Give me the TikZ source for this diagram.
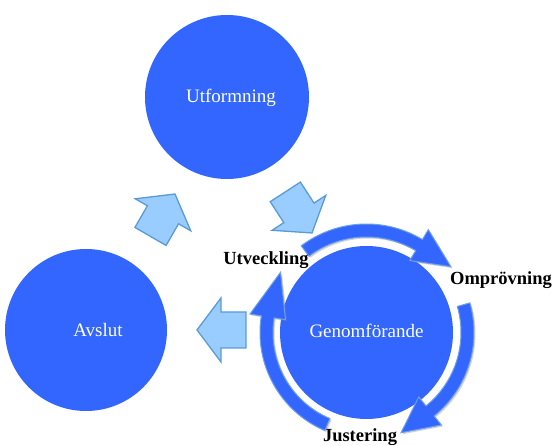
\documentclass[tikz,border=0pt]{standalone}
\usepackage{fontspec}
\setmainfont{Liberation Serif}
\usetikzlibrary{shadows}
\definecolor{discblue}{RGB}{51,102,255}
\definecolor{blockfill}{RGB}{153,204,255}
\definecolor{blockline}{RGB}{91,155,213}
\definecolor{ringline}{RGB}{110,160,230}
\tikzset{
  disc/.style={circle, fill=discblue, draw=none, minimum size=#1,
    text=white, font=\fontsize{19}{22}\selectfont},
  blockarrow/.style={fill=blockfill, draw=blockline, line width=1.3pt, line join=miter},
  ringarrow/.style={fill=discblue, draw=ringline, line width=1pt, line join=miter,
    drop shadow={shadow xshift=1.5pt, shadow yshift=-1.5pt, opacity=0.35}},
  tag/.style={font=\bfseries\fontsize{18.5}{21}\selectfont, text=black, inner sep=0pt}
}
% straight block arrow, tip at the origin, pointing along +x
\newcommand{\blockarrowshape}[2]{%
  \begin{scope}[shift={#1}, rotate=#2]
    \draw[blockarrow] (0,0) -- (-24,32) -- (-24,18) -- (-49,18) -- (-49,-18)
      -- (-24,-18) -- (-24,-32) -- cycle;
  \end{scope}}
% clockwise circular arrow: centre, radius, start angle, head-base angle, tip angle
\newcommand{\ringarrowshape}[5]{%
  \begin{scope}[shift={#1}]
    \draw[ringarrow] (#3:#2+6.5) arc[start angle=#3, end angle=#4, radius=#2+6.5]
      -- (#4:#2+18) -- (#5:#2+5) -- (#4:#2-18) -- (#4:#2-6.5)
      arc[start angle=#4, end angle=#3, radius=#2-6.5] -- cycle;
  \end{scope}}
\begin{document}
\begin{tikzpicture}[x=1pt, y=1pt]
  \useasboundingbox (0,0) rectangle (554,446);
  % the three stages
  \node[disc=164pt] (utf) at (227,349) {};
  \node[disc=162pt] (avs) at (86,116) {};
  \node[disc=173pt] (gen) at (366.5,113.5) {};
  \node[text=white, font=\fontsize{19}{22}\selectfont] (utft) at (231,348) {Utformning};
  \node[text=white, font=\fontsize{19}{22}\selectfont] (avst) at (98,116) {Avslut};
  \node[text=white, font=\fontsize{19}{22}\selectfont] (gent) at (366.5,115) {Genomförande};
  % flow between the stages
  \blockarrowshape{(175,252)}{60}
  \blockarrowshape{(312,213)}{-57}
  \blockarrowshape{(197,116)}{180}
  % cycle inside the execution stage
  \ringarrowshape{(gen.center)}{102}{127}{59}{38}
  \ringarrowshape{(gen.center)}{101}{16}{-51}{-71}
  \ringarrowshape{(gen.center)}{100}{247}{171}{145}
  % cycle labels
  \node[tag] (utv) at (266,186) {Utveckling};
  \node[tag] (omp) at (501,166) {Omprövning};
  \node[tag] (jus) at (360,8.5) {Justering};
\end{tikzpicture}
\end{document}
